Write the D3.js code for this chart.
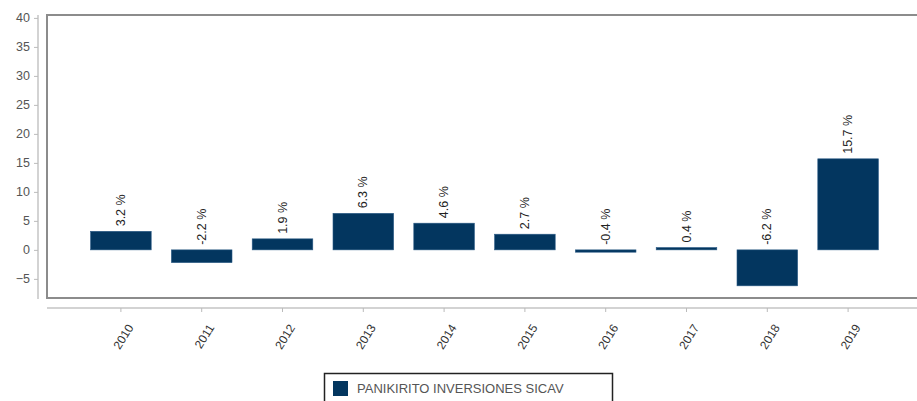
<!DOCTYPE html>
<html>
<head>
<meta charset="utf-8">
<script src="https://d3js.org/d3.v7.min.js"></script>
<style>
  body { margin: 0; background: #fff; }
  text { font-family: "Liberation Sans", Arial, sans-serif; }
</style>
</head>
<body>
<div id="chart"></div>
<script>
// Data ----------------------------------------------------------------------->
const years = ['2010', '2011', '2012', '2013', '2014', '2015', '2016', '2017', '2018', '2019'];
const returns = [3.2, -2.2, 1.9, 6.3, 4.6, 2.7, -0.4, 0.4, -6.2, 15.7];
const y_ticks = [40, 35, 30, 25, 20, 15, 10, 5, 0, -5];
const series_name = 'PANIKIRITO INVERSIONES SICAV';

// Setup ---------------------------------------------------------------------->
const width = 917, height = 401;
const bar_color = '#03365f';

const svg = d3.select('#chart')
  .append('svg')
    .attr('width', width)
    .attr('height', height);

const frame = {left: 47, top: 15, bottom: 298, right: 930};

const y = d3.scaleLinear()
  .domain([-8.3, 40.5])
  .range([frame.bottom, frame.top]);

const x = d3.scaleBand()
  .domain(years)
  .range([80.5, 888.5])
  .paddingInner(0.25)
  .paddingOuter(0.125);

// Plot frame
svg.append('rect')
  .attr('x', frame.left)
  .attr('y', frame.top)
  .attr('width', frame.right - frame.left)
  .attr('height', frame.bottom - frame.top)
  .attr('fill', 'none')
  .attr('stroke', '#8c8c8c')
  .attr('stroke-width', 2);

// Y axis (separate line left of the frame)
const y_axis = svg.append('g')
  .attr('transform', 'translate(38,0)')
  .call(d3.axisLeft(y).tickValues(y_ticks).tickSize(4).tickPadding(4));
y_axis.select('.domain')
  .attr('d', `M0,${frame.top}V${frame.bottom + 1}`)
  .attr('stroke', '#c4c4c4')
  .attr('stroke-width', 1.5);
y_axis.selectAll('.tick line').attr('stroke', '#bbb');
y_axis.selectAll('.tick text')
  .style('font-size', '12.5px')
  .attr('fill', '#555');

// X axis (separate line below the frame)
const x_axis = svg.append('g')
  .attr('transform', 'translate(0,308)')
  .call(d3.axisBottom(x).tickSize(4).tickPadding(6));
x_axis.select('.domain')
  .attr('d', `M${frame.left},0H${width}`)
  .attr('stroke', '#c4c4c4')
  .attr('stroke-width', 1.5);
x_axis.selectAll('.tick line').attr('stroke', '#bbb');
x_axis.selectAll('.tick text')
  .style('font-size', '12px')
  .attr('fill', '#333')
  .attr('text-anchor', 'end')
  .attr('dy', '0.35em')
  .attr('transform', 'translate(1,12) rotate(-58)');

// Bars
svg.append('g')
  .selectAll('rect')
  .data(returns)
  .join('rect')
    .attr('x', (d, i) => x(years[i]))
    .attr('y', d => y(Math.max(d, 0)))
    .attr('width', x.bandwidth())
    .attr('height', d => Math.abs(y(d) - y(0)))
    .attr('fill', bar_color)
    .attr('stroke', '#2a5a85')
    .attr('stroke-width', 0.6);

// Value labels, rotated
svg.append('g')
  .selectAll('text')
  .data(returns)
  .join('text')
    .attr('transform', (d, i) =>
      `translate(${x(years[i]) + x.bandwidth() / 2 + 4},${y(Math.max(d, 0)) - 5}) rotate(-90)`)
    .attr('text-anchor', 'start')
    .style('font-size', '12.5px')
    .attr('fill', '#222')
    .text(d => d.toFixed(1) + ' %');

// Legend
const legend = svg.append('g');
legend.append('rect')
  .attr('x', 324.5)
  .attr('y', 373.5)
  .attr('width', 288)
  .attr('height', 40)
  .attr('fill', '#fff')
  .attr('stroke', '#222')
  .attr('stroke-width', 1.5);
legend.append('rect')
  .attr('x', 333)
  .attr('y', 381)
  .attr('width', 15)
  .attr('height', 15)
  .attr('fill', bar_color);
legend.append('text')
  .attr('x', 357)
  .attr('y', 393)
  .style('font-size', '13px')
  .attr('fill', '#555')
  .text(series_name);
</script>
</body>
</html>
